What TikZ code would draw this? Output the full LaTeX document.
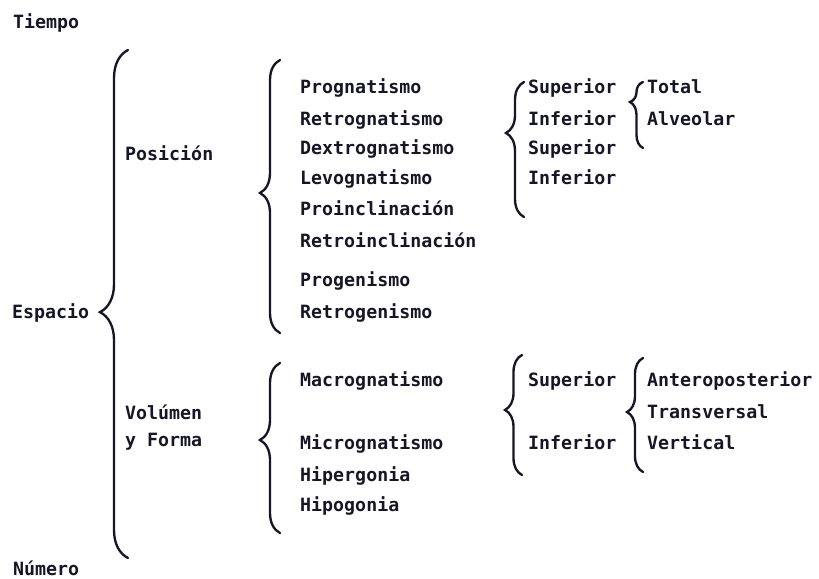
\documentclass[tikz,border=0pt]{standalone}
\usepackage{fontspec}
\newfontfamily\dotfont{DejaVu Sans Mono}
\usetikzlibrary{decorations.pathreplacing}
\definecolor{ink}{RGB}{22,22,38}
\tikzset{
  word/.style={anchor=base west, inner sep=0pt, text=ink,
    font=\dotfont\bfseries\fontsize{15.6}{18}\selectfont},
  curly/.style 2 args={draw=ink, line width=2pt, line cap=round, decorate,
    decoration={brace, amplitude=#1, aspect=#2}},
}
\begin{document}
\begin{tikzpicture}[x=0.3mm, y=-0.3mm]
		\useasboundingbox (0,0) rectangle (819,579);

		\coordinate (esp_top) at (128,50);
		\coordinate (esp_bot) at (128,558);
		\coordinate (pos_top) at (280,60);
		\coordinate (pos_bot) at (280,333);
		\coordinate (sup_top) at (524,82);
		\coordinate (sup_bot) at (524,217);
		\coordinate (tot_top) at (643,82);
		\coordinate (tot_bot) at (643,148);
		\coordinate (vol_top) at (280,363);
		\coordinate (vol_bot) at (280,533);
		\coordinate (mac_top) at (522,355);
		\coordinate (mac_bot) at (522,475);
		\coordinate (ant_top) at (643,358);
		\coordinate (ant_bot) at (643,472);

		\draw [curly={8.4mm}{0.484}] (esp_bot)--(esp_top);
		\draw [curly={6mm}{0.513}] (pos_bot)--(pos_top);
		\draw [curly={5.4mm}{0.622}] (sup_bot)--(sup_top);
		\draw [curly={3.9mm}{0.697}] (tot_bot)--(tot_top);
		\draw [curly={6mm}{0.547}] (vol_bot)--(vol_top);
		\draw [curly={5.1mm}{0.542}] (mac_bot)--(mac_top);
		\draw [curly={4.8mm}{0.526}] (ant_bot)--(ant_top);

		\node [word] (tiempo) at (13,29) {Tiempo};
		\node [word] (espacio) at (12,319) {Espacio};
		\node [word] (numero) at (13,575) {Número};

		\node [word] (posicion) at (125,161) {Posición};
		\node [word] (volumen) at (125,420) {Volúmen};
		\node [word] (forma) at (125,447) {y Forma};

		\node [word] (prog) at (300,94) {Prognatismo};
		\node [word] (retrog) at (300,126) {Retrognatismo};
		\node [word] (dextrog) at (300,155) {Dextrognatismo};
		\node [word] (levog) at (300,185) {Levognatismo};
		\node [word] (proincl) at (300,216) {Proinclinación};
		\node [word] (retroincl) at (300,248) {Retroinclinación};
		\node [word] (progen) at (300,287) {Progenismo};
		\node [word] (retrogen) at (300,319) {Retrogenismo};

		\node [word] (macrog) at (300,387) {Macrognatismo};
		\node [word] (microg) at (300,450) {Micrognatismo};
		\node [word] (hiperg) at (300,482) {Hipergonia};
		\node [word] (hipog) at (300,512) {Hipogonia};

		\node [word] (sup_a) at (528,94) {Superior};
		\node [word] (inf_a) at (528,126) {Inferior};
		\node [word] (sup_b) at (528,155) {Superior};
		\node [word] (inf_b) at (528,185) {Inferior};
		\node [word] (total) at (647,94) {Total};
		\node [word] (alveolar) at (647,126) {Alveolar};

		\node [word] (sup_c) at (528,387) {Superior};
		\node [word] (inf_c) at (528,450) {Inferior};
		\node [word] (antpost) at (647,387) {Anteroposterior};
		\node [word] (transv) at (647,419) {Transversal};
		\node [word] (vertical) at (647,450) {Vertical};

	\end{tikzpicture}
\end{document}
